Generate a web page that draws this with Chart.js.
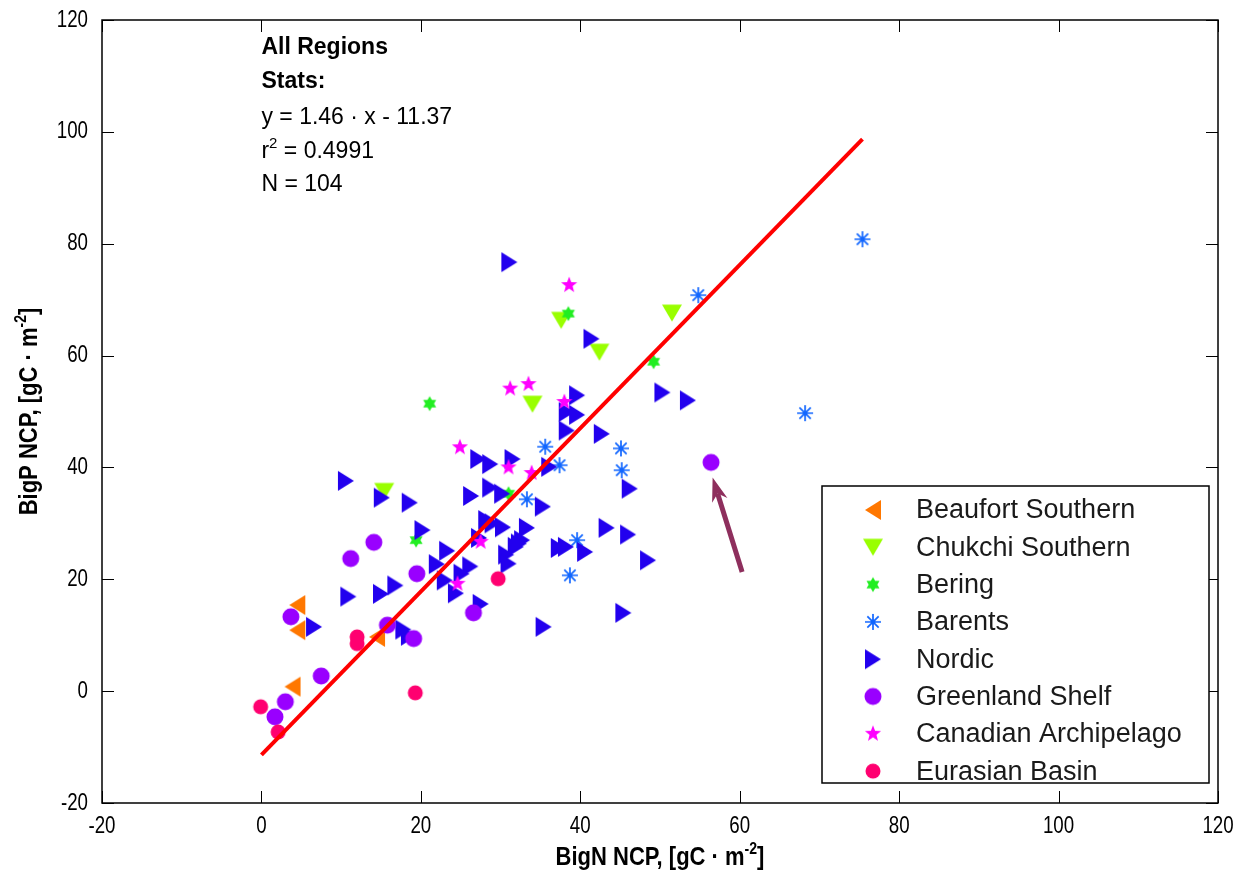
<!DOCTYPE html>
<html>
<head>
<meta charset="utf-8">
<title>BigP NCP vs BigN NCP</title>
<script src="https://cdn.jsdelivr.net/npm/chart.js@4.4.1/dist/chart.umd.min.js"></script>
<style>
  html, body { margin: 0; padding: 0; background: #fff; }
  #chart { display: block; }
</style>
</head>
<body>
<canvas id="chart" width="1242" height="878"></canvas>
<script>
// values, gC m^-2
const regionNames = ['Beaufort Southern', 'Chukchi Southern', 'Bering', 'Barents', 'Nordic',
  'Greenland Shelf', 'Canadian Archipelago', 'Eurasian Basin'];

const beaufortX = [4.5, 4.5, 14.5, 3.9];
const beaufortY = [15.4, 10.9, 9.7, 0.8];

const chukchiX = [15.4, 34.0, 37.6, 42.4, 51.5];
const chukchiY = [35.7, 51.3, 66.3, 60.6, 67.6];

const beringX = [21.1, 38.5, 49.2, 31.0, 19.4];
const beringY = [51.4, 67.5, 58.9, 35.3, 27.0];

const barentsX = [54.8, 75.4, 68.2, 35.6, 37.4, 45.1, 45.2, 33.3, 39.6, 38.7];
const barentsY = [70.8, 80.8, 49.7, 43.7, 40.4, 43.4, 39.5, 34.3, 27.0, 20.7];

const nordicX = [31.1, 41.4, 50.3, 53.5, 39.6, 38.3, 39.6, 38.3, 42.7, 46.2, 36.1, 35.3, 43.3, 46.0,
  48.5, 45.4, 37.3, 38.2, 40.6, 35.4, 33.3, 32.7, 31.9, 30.7, 31.0, 27.2, 28.7, 31.5, 28.7, 30.2,
  26.3, 29.0, 30.3, 27.5, 27.3, 10.6, 15.1, 18.6, 20.2, 23.3, 22.0, 26.2, 25.1, 23.0, 24.4, 10.9,
  15.0, 16.8, 6.6, 17.8, 18.5, 28.2, 32.3];
const nordicY = [76.7, 63.0, 53.4, 52.0, 52.9, 49.9, 49.4, 46.6, 46.0, 36.2, 40.1, 33.0, 29.2, 28.0,
  23.4, 14.0, 25.6, 25.8, 24.9, 11.5, 29.2, 27.0, 25.8, 24.4, 22.8, 41.5, 40.6, 41.5, 36.4, 35.3,
  34.9, 30.0, 29.3, 15.6, 27.4, 37.6, 34.6, 33.7, 28.8, 25.1, 22.7, 22.3, 21.0, 19.8, 17.5, 16.9,
  17.4, 18.9, 11.5, 11.0, 9.9, 30.6, 26.4];

const greenlandX = [56.4, 14.1, 11.2, 19.5, 3.7, 26.6, 15.8, 19.1, 7.5, 3.0, 1.7];
const greenlandY = [40.9, 26.6, 23.7, 21.0, 13.3, 14.0, 11.8, 9.4, 2.7, -1.9, -4.6];

const canadianX = [38.6, 31.2, 33.5, 38.0, 24.9, 31.0, 33.9, 27.5, 24.6];
const canadianY = [72.6, 54.1, 54.9, 51.7, 43.6, 40.0, 39.0, 26.7, 19.2];

const eurasianX = [-0.1, 2.1, 12.0, 12.0, 19.3, 29.7];
const eurasianY = [-2.8, -7.3, 9.7, 8.5, -0.3, 20.1];

// fitted line end points and the arrow (tail, head)
const fitX = [0, 75.4];
const fitY = [-11.4, 98.7];
const arrowX = [60.3, 56.6];
const arrowY = [21.3, 38.2];

const statsTitle = ['All Regions', 'Stats:'];
const statsEq = 'y = 1.46 \u00b7 x - 11.37';
const statsR2 = ['r', '2', ' = 0.4991'];
const statsN = 'N = 104';
const xTitle = ['BigN NCP, [gC \u00b7 m', '-2', ']'];
const yTitle = ['BigP NCP, [gC \u00b7 m', '-2', ']'];
const xTicks = [-20, 0, 20, 40, 60, 80, 100, 120];
const yTicks = [-20, 0, 20, 40, 60, 80, 100, 120];

const plain = "'Liberation Sans', Arial, sans-serif";

function pts(xs, ys) {
  return xs.map((v, i) => ({x: v, y: ys[i]}));
}

// small canvases used as marker images, shape centred on its bounding box
function marker(kind, color) {
  const s = 24, m = s / 2;
  const c = document.createElement('canvas');
  c.width = s; c.height = s;
  const g = c.getContext('2d');
  g.fillStyle = color;
  g.strokeStyle = color;
  g.beginPath();
  if (kind === 'right') {
    g.moveTo(m - 8, m - 10); g.lineTo(m + 8, m); g.lineTo(m - 8, m + 10);
  } else if (kind === 'left') {
    g.moveTo(m + 8, m - 10); g.lineTo(m - 8, m); g.lineTo(m + 8, m + 10);
  } else if (kind === 'down') {
    g.moveTo(m - 10, m - 8.5); g.lineTo(m + 10, m - 8.5); g.lineTo(m, m + 8.5);
  } else if (kind === 'hexagram') {
    for (let k = 0; k < 2; k++) {
      for (let j = 0; j < 3; j++) {
        const a = k * Math.PI / 3 + j * 2 * Math.PI / 3 - Math.PI / 2;
        const px = m + 7.5 * Math.cos(a), py = m + 7.5 * Math.sin(a);
        j === 0 ? g.moveTo(px, py) : g.lineTo(px, py);
      }
      g.closePath();
    }
    g.fill('nonzero');
    return c;
  } else if (kind === 'star') {
    for (let j = 0; j < 10; j++) {
      const r = j % 2 ? 3.6 : 8.5;
      const a = j * Math.PI / 5 - Math.PI / 2;
      j === 0 ? g.moveTo(m + r * Math.cos(a), m + r * Math.sin(a)) : g.lineTo(m + r * Math.cos(a), m + r * Math.sin(a));
    }
  } else if (kind === 'asterisk') {
    g.lineWidth = 1.7;
    for (let j = 0; j < 4; j++) {
      const a = j * Math.PI / 4;
      g.moveTo(m - 8 * Math.cos(a), m - 8 * Math.sin(a));
      g.lineTo(m + 8 * Math.cos(a), m + 8 * Math.sin(a));
    }
    g.stroke();
    g.beginPath();
    g.arc(m, m, 2.4, 0, Math.PI * 2);
    g.fill();
    return c;
  } else if (kind === 'dot') {
    g.arc(m, m, 8.5, 0, Math.PI * 2);
  } else if (kind === 'smalldot') {
    g.arc(m, m, 7.5, 0, Math.PI * 2);
  }
  g.closePath();
  g.fill();
  return c;
}

// text squeezed sideways, parts alternate normal / superscript
function rich(ctx, parts, x, y, base, sup, sx, align) {
  ctx.save();
  ctx.translate(x, y);
  ctx.scale(sx, 1);
  ctx.textAlign = 'left';
  ctx.textBaseline = 'middle';
  const w = parts.map((p, i) => { ctx.font = i % 2 ? sup : base; return ctx.measureText(p).width; });
  const total = w.reduce((a, b) => a + b, 0);
  let cx = align === 'center' ? -total / 2 : (align === 'right' ? -total : 0);
  parts.forEach((p, i) => {
    ctx.font = i % 2 ? sup : base;
    ctx.fillText(p, cx, i % 2 ? -8 : 0);
    cx += w[i];
  });
  ctx.restore();
}

const markers = [
  marker('left', '#ff7700'),
  marker('down', '#99ff00'),
  marker('hexagram', '#22ee22'),
  marker('asterisk', '#1166ff'),
  marker('right', '#2200ee'),
  marker('dot', '#9900ff'),
  marker('star', '#ff00ff'),
  marker('smalldot', '#ff0070')
];

const seriesData = [
  pts(beaufortX, beaufortY),
  pts(chukchiX, chukchiY),
  pts(beringX, beringY),
  pts(barentsX, barentsY),
  pts(nordicX, nordicY),
  pts(greenlandX, greenlandY),
  pts(canadianX, canadianY),
  pts(eurasianX, eurasianY)
];

// later regions are drawn on top, the fit line over everything
const datasets = seriesData.map((d, i) => ({
  label: regionNames[i],
  data: d,
  pointStyle: markers[i],
  pointRadius: 8,
  pointHoverRadius: 8,
  order: 10 - i
}));
datasets.push({
  type: 'line',
  label: 'fit',
  data: pts(fitX, fitY),
  borderColor: '#ff0000',
  borderWidth: 4,
  pointRadius: 0,
  fill: false,
  order: 0
});

const frame = {
  id: 'frame',
  afterDatasetsDraw(chart) {
    const {ctx, scales: {x, y}} = chart;
    const x0 = x.getPixelForValue(arrowX[0]), y0 = y.getPixelForValue(arrowY[0]);
    const x1 = x.getPixelForValue(arrowX[1]), y1 = y.getPixelForValue(arrowY[1]);
    const a = Math.atan2(y1 - y0, x1 - x0);
    const ca = Math.cos(a), sa = Math.sin(a);
    const head = 24, half = 8;
    ctx.save();
    ctx.strokeStyle = '#8e2f5d';
    ctx.fillStyle = '#8e2f5d';
    ctx.lineWidth = 5;
    ctx.beginPath();
    ctx.moveTo(x0, y0);
    ctx.lineTo(x1 - ca * head * 0.7, y1 - sa * head * 0.7);
    ctx.stroke();
    ctx.beginPath();
    ctx.moveTo(x1, y1);
    ctx.lineTo(x1 - head * ca + half * sa, y1 - head * sa - half * ca);
    ctx.lineTo(x1 - head * ca * 0.7, y1 - head * sa * 0.7);
    ctx.lineTo(x1 - head * ca - half * sa, y1 - head * sa + half * ca);
    ctx.closePath();
    ctx.fill();
    ctx.restore();
  },
  afterDraw(chart) {
    const {ctx, chartArea: {left, top, right, bottom}, scales: {x, y}} = chart;
    ctx.save();

    // box with inward ticks on all four sides
    ctx.strokeStyle = '#000';
    ctx.lineWidth = 1.5;
    ctx.strokeRect(left, top, right - left, bottom - top);
    ctx.lineWidth = 1;
    ctx.beginPath();
    xTicks.forEach(v => {
      const px = Math.round(x.getPixelForValue(v)) + 0.5;
      ctx.moveTo(px, bottom); ctx.lineTo(px, bottom - 12);
      ctx.moveTo(px, top); ctx.lineTo(px, top + 12);
    });
    yTicks.forEach(v => {
      const py = Math.round(y.getPixelForValue(v)) + 0.5;
      ctx.moveTo(left, py); ctx.lineTo(left + 12, py);
      ctx.moveTo(right, py); ctx.lineTo(right - 12, py);
    });
    ctx.stroke();

    // tick labels, narrow like the original figure
    ctx.fillStyle = '#000';
    const tickFont = '24px ' + plain;
    xTicks.forEach(v => rich(ctx, [String(v)], x.getPixelForValue(v), bottom + 23, tickFont, tickFont, 0.78, 'center'));
    yTicks.forEach(v => rich(ctx, [String(v)], left - 14, y.getPixelForValue(v), tickFont, tickFont, 0.78, 'right'));

    // axis titles
    const titleFont = 'bold 25px ' + plain, supFont = 'bold 16px ' + plain;
    rich(ctx, xTitle, (left + right) / 2, 858, titleFont, supFont, 0.88, 'center');
    ctx.save();
    ctx.translate(30, (top + bottom) / 2);
    ctx.rotate(-Math.PI / 2);
    rich(ctx, yTitle, 0, 0, titleFont, supFont, 0.88, 'center');
    ctx.restore();

    // stats block
    const sx = x.getPixelForValue(0);
    const rows = [48, 82, 118, 152, 185];
    rich(ctx, [statsTitle[0]], sx, rows[0], 'bold 23px ' + plain, '', 1, 'left');
    rich(ctx, [statsTitle[1]], sx, rows[1], 'bold 23px ' + plain, '', 1, 'left');
    rich(ctx, [statsEq], sx, rows[2], '23px ' + plain, '', 1, 'left');
    rich(ctx, statsR2, sx, rows[3], '23px ' + plain, '15px ' + plain, 1, 'left');
    rich(ctx, [statsN], sx, rows[4], '23px ' + plain, '', 1, 'left');

    // legend
    const lx = 822, ly = 486, lw = 387, lh = 297;
    ctx.fillStyle = '#fff';
    ctx.fillRect(lx, ly, lw, lh);
    ctx.strokeStyle = '#000';
    ctx.lineWidth = 1.5;
    ctx.strokeRect(lx, ly, lw, lh);
    ctx.font = '27px ' + plain;
    ctx.fillStyle = '#1a1a1a';
    ctx.textAlign = 'left';
    ctx.textBaseline = 'middle';
    regionNames.forEach((name, i) => {
      const cy = ly + 24 + i * 37.3;
      const img = markers[i];
      ctx.drawImage(img, lx + 51 - img.width / 2, cy - img.height / 2);
      ctx.fillText(name, lx + 94, cy + 1);
    });
    ctx.restore();
  }
};

new Chart(document.getElementById('chart'), {
  type: 'scatter',
  data: {datasets: datasets},
  options: {
    responsive: false,
    animation: false,
    events: [],
    layout: {padding: {top: 20, right: 24, left: 0, bottom: 0}},
    plugins: {
      legend: {display: false},
      tooltip: {enabled: false}
    },
    scales: {
      x: {
        type: 'linear',
        min: -20,
        max: 120,
        afterBuildTicks(s) { s.ticks = xTicks.map(v => ({value: v})); },
        afterFit(s) { s.height = 75; },
        grid: {display: false, drawTicks: false},
        border: {display: false},
        ticks: {display: false},
        title: {display: false}
      },
      y: {
        type: 'linear',
        min: -20,
        max: 120,
        afterBuildTicks(s) { s.ticks = yTicks.map(v => ({value: v})); },
        afterFit(s) { s.width = 102; },
        grid: {display: false, drawTicks: false},
        border: {display: false},
        ticks: {display: false},
        title: {display: false}
      }
    }
  },
  plugins: [frame]
});
</script>
</body>
</html>
